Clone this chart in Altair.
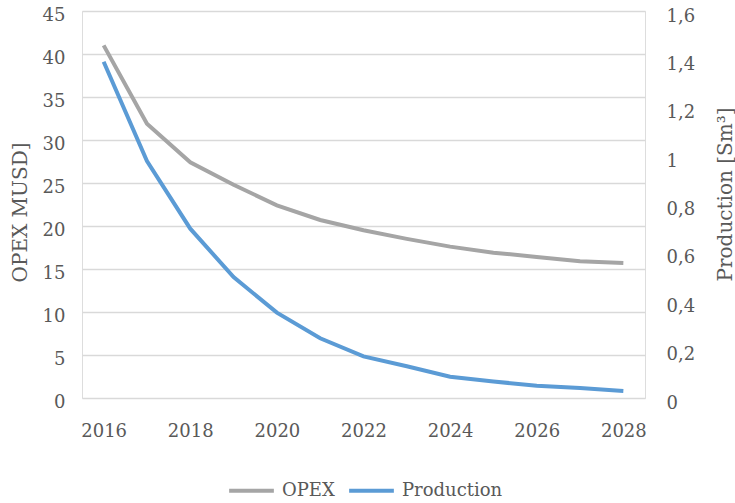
import altair as alt
import pandas as pd

# Yearly series
years = [2016, 2017, 2018, 2019, 2020, 2021, 2022, 2023, 2024, 2025, 2026, 2027, 2028]
opex = [41.0, 31.9, 27.4, 24.8, 22.4, 20.7, 19.5, 18.5, 17.6, 16.9, 16.4, 15.9, 15.7]
production = [1.39, 0.98, 0.70, 0.50, 0.353, 0.247, 0.172, 0.131, 0.088, 0.068, 0.051, 0.041, 0.029]

series_names = ["OPEX", "Production"]
series_colors = ["#A5A5A5", "#5B9BD5"]

left_ticks = [0, 5, 10, 15, 20, 25, 30, 35, 40, 45]
right_ticks = [0, 0.2, 0.4, 0.6, 0.8, 1.0, 1.2, 1.4, 1.6]
year_ticks = [2016, 2018, 2020, 2022, 2024, 2026, 2028]

df = pd.DataFrame({
    "year": years * 2,
    "series": ["OPEX"] * len(years) + ["Production"] * len(years),
    "value": opex + production,
})

FONT = "DejaVu Serif"
TEXT = "#595959"
LABEL_SIZE = 18
TITLE_SIZE = 20

x_enc = alt.X(
    "year:Q",
    scale=alt.Scale(domain=[2015.5, 2028.5], nice=False, zero=False),
    axis=alt.Axis(
        values=year_ticks, format="d", title=None, grid=False, domain=False,
        ticks=False, labelPadding=24, labelFontSize=LABEL_SIZE,
        labelColor=TEXT, labelFont=FONT,
    ),
)

color_enc = alt.Color(
    "series:N",
    scale=alt.Scale(domain=series_names, range=series_colors),
    legend=alt.Legend(
        title=None, orient="none", direction="horizontal", legendX=145,
        legendY=455, symbolType="stroke", symbolStrokeWidth=4,
        symbolSize=2000, labelFontSize=LABEL_SIZE, labelFont=FONT,
        labelColor=TEXT, columnPadding=6, labelOffset=6,
    ),
)

base = alt.Chart(df)

opex_line = base.transform_filter(alt.datum.series == "OPEX").mark_line(
    strokeWidth=4
).encode(
    x=x_enc,
    y=alt.Y(
        "value:Q",
        scale=alt.Scale(domain=[0, 45], nice=False),
        axis=alt.Axis(
            values=left_ticks, title="OPEX  MUSD]", grid=True,
            gridColor="#D9D9D9", gridWidth=1.5, domain=False, ticks=False,
            labelPadding=17, labelFontSize=LABEL_SIZE, labelColor=TEXT,
            labelFont=FONT, labelOffset=4, titleFont=FONT,
            titleFontSize=TITLE_SIZE, titleFontWeight="normal",
            titleColor=TEXT, titleAngle=270, titleBaseline="middle",
            titleX=-62, titleY=201,
        ),
    ),
    color=color_enc,
)

prod_line = base.transform_filter(alt.datum.series == "Production").mark_line(
    strokeWidth=4
).encode(
    x=x_enc,
    y=alt.Y(
        "value:Q",
        scale=alt.Scale(domain=[0, 1.6], nice=False),
        axis=alt.Axis(
            orient="right", values=right_ticks, title="Production [Sm³]",
            grid=False, domain=False, ticks=False, labelPadding=21,
            labelExpr="replace(format(datum.value, '.1~f'), '.', ',')",
            labelFontSize=LABEL_SIZE, labelColor=TEXT, labelFont=FONT,
            labelOffset=5, titleFont=FONT, titleFontSize=TITLE_SIZE,
            titleFontWeight="normal", titleColor=TEXT, titleAngle=270,
            titleBaseline="middle", titleX=80, titleY=183,
        ),
    ),
    color=color_enc,
)

chart = alt.layer(opex_line, prod_line).resolve_scale(y="independent").properties(
    width=563,
    height=387,
    autosize=alt.AutoSizeParams(type="none"),
    padding={"left": 82, "top": 11, "right": 90, "bottom": 105},
).configure_view(stroke=None).configure(background="white")

chart.save("out.html", embed_options={"renderer": "svg", "actions": False})
